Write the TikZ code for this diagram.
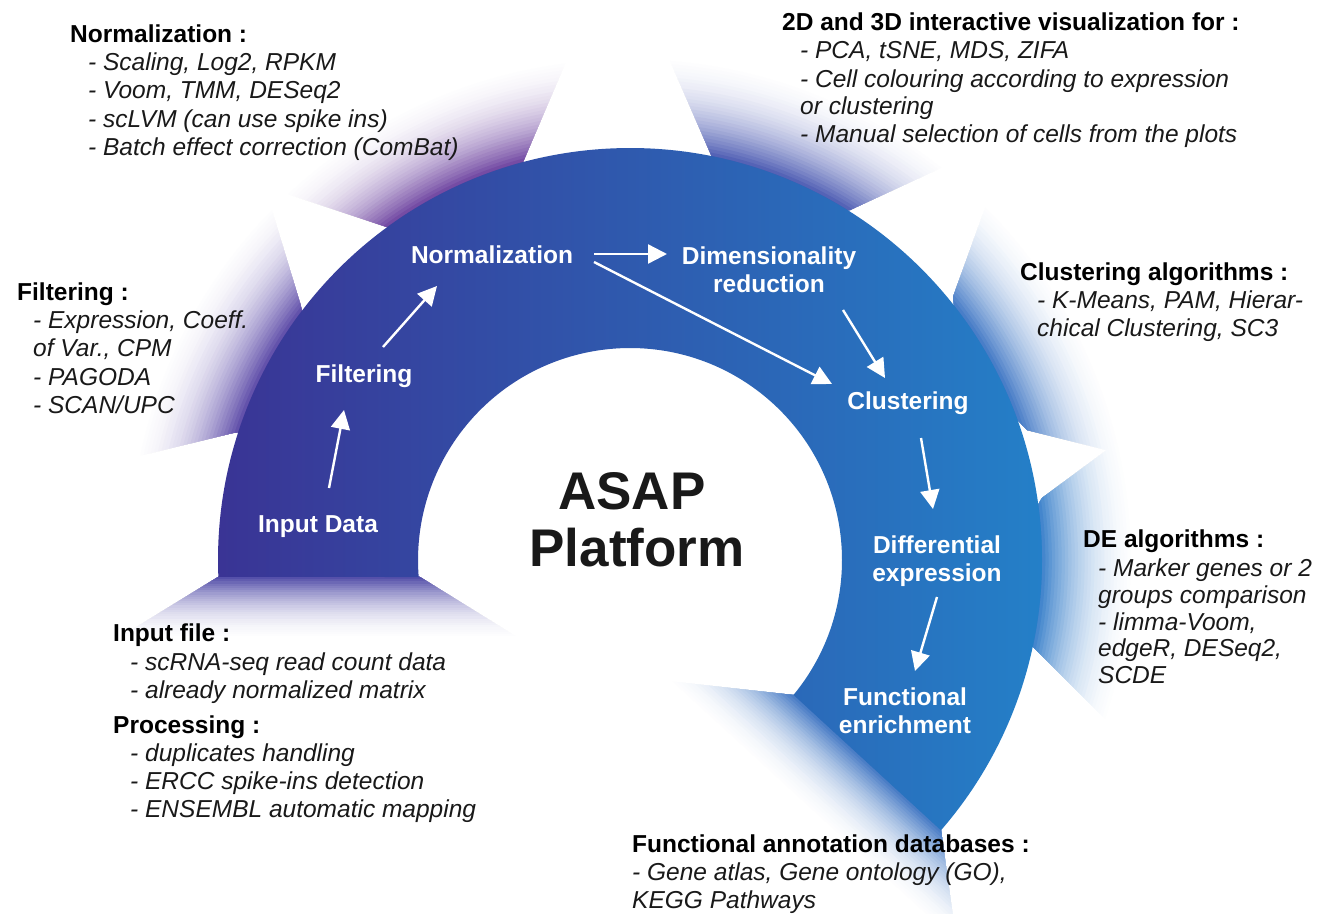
\documentclass[tikz,border=0pt]{standalone}
\usepackage{fontspec}
\setmainfont{Liberation Sans}
\usetikzlibrary{arrows.meta,calc}
\definecolor{ringL}{RGB}{58,51,148}
\definecolor{ringR}{RGB}{36,128,200}
\definecolor{rayA}{RGB}{62,56,158}
\definecolor{rayB}{RGB}{78,58,160}
\definecolor{rayC}{RGB}{98,52,152}
\definecolor{rayD}{RGB}{62,78,172}
\definecolor{rayE}{RGB}{48,108,192}
\definecolor{rayF}{RGB}{42,118,198}
\definecolor{rayG}{RGB}{50,108,190}
\definecolor{txt}{RGB}{25,25,25}

% radial fading ray: #1 clip polygon, #2 colour
\newcommand{\radray}[2]{%
  \begin{scope}
    \clip #1;
    \foreach \k in {1,...,32}{%
      \pgfmathsetmacro{\rr}{412+105*(1-\k/32)}%
      \pgfmathtruncatemacro{\pp}{95*(\k/32)^2.2}%
      \fill[#2!\pp!white] (630,-560) circle[radius=\rr];
    }
  \end{scope}}
% linear fading ray: #1 clip polygon, #2 colour, #3 origin, #4 rotation, #5 fade length
\newcommand{\linray}[5]{%
  \begin{scope}
    \clip #1;
    \begin{scope}[shift={#3},rotate=#4]
      \foreach \k in {1,...,32}{%
        \pgfmathsetmacro{\yy}{#5*(1-\k/32)}%
        \pgfmathtruncatemacro{\pp}{95*(\k/32)^2.2}%
        \fill[#2!\pp!white] (-700,-300) rectangle (700,\yy);
      }
    \end{scope}
  \end{scope}}

\tikzset{
  lab/.style={text=white, font=\bfseries\fontsize{24.5}{27.5}\selectfont, align=center, inner sep=0pt},
  arr/.style={white, line width=2.4pt, -{Triangle[length=19pt,width=19pt]}},
  hd/.style={anchor=base west, inner sep=0pt, text=black, font=\bfseries\fontsize{24.5}{28}\selectfont},
  bd/.style={anchor=base west, inner sep=0pt, text=txt, font=\itshape\fontsize{24.5}{28}\selectfont},
  big/.style={anchor=base, inner sep=0pt, text=black!90, font=\bfseries\fontsize{53}{58}\selectfont}
}

\begin{document}
\begin{tikzpicture}[x=1pt,y=1pt]
\fill[white] (0,0) rectangle (1317,-913);
\useasboundingbox (0,0) rectangle (1317,-913);
\clip (0,0) rectangle (1317,-913);

% ---- fading rays ----
\linray{(218,-577) -- (-38,-734) -- (675,-735) -- (420,-577) -- (319,-560) -- cycle}{rayA}{(319,-577)}{180}{70}
\radray{(233,-433) -- (-58,-504) -- (213,-16) -- (300,-303) -- (330,-420) -- cycle}{rayB}
\radray{(387,-227) -- (102,-132) -- (641,114) -- (523,-162) -- (460,-230) -- cycle}{rayC}
\radray{(712,-157) -- (592,118) -- (1122,-84) -- (850,-210) -- (780,-220) -- cycle}{rayD}
\radray{(953,-297) -- (1055,-15) -- (1318,-503) -- (1027,-430) -- (960,-360) -- cycle}{rayE}
\radray{(1042,-498) -- (1283,-320) -- (1245,-859) -- (1033,-647) -- (1000,-570) -- cycle}{rayF}
\linray{(793.6,-695) -- (495.6,-662) -- (982,-1127) -- (941,-830) -- (880,-720) -- cycle}{rayG}{(793.6,-695)}{137.5}{85}

% ---- ring ----
\shade[left color=ringL, right color=ringR]
  (630,-560) ++(182.36:412) arc[start angle=182.36, end angle=-41, radius=412]
  -- ($(630,-560)+(-39.5:212)$) arc[start angle=-39.5, end angle=184.6, radius=212] -- cycle;

% ---- ring labels ----
\node[lab] (indata) at (318,-527) {Input Data};
\node[lab] (filt) at (364,-376) {Filtering};
\node[lab] (norm) at (492,-255) {Normalization};
\node[lab] (dimred) at (769,-269.5) {Dimensionality\\reduction};
\node[lab] (clust) at (908,-403) {Clustering};
\node[lab] (diffex) at (937,-561) {Differential\\expression};
\node[lab] (funcen) at (905,-710.5) {Functional\\enrichment};

% ---- arrows ----
\draw[arr] ($(indata)+(11,39)$) -- ($(filt)+(-20,-34)$);
\draw[arr] ($(filt)+(19,29)$) -- ($(norm)+(-55,-31)$);
\draw[arr] ($(norm)+(102,1)$) -- ($(dimred)+(-102,15.5)$);
\draw[arr] ($(norm)+(102,-7)$) -- ($(clust)+(-76,19)$);
\draw[arr] ($(dimred)+(74,-40.5)$) -- ($(clust)+(-23,25)$);
\draw[arr] ($(clust)+(13,-35)$) -- ($(diffex)+(-4,52)$);
\draw[arr] ($(diffex)+(0,-36)$) -- ($(funcen)+(10,39.5)$);

% ---- centre title ----
\node[big] (asap) at (632,-509) {ASAP};
\node[big] (plat) at (637,-566) {Platform};

% ---- text blocks ----
\node[hd] (nh) at (70,-42) {Normalization :};
\node[bd] (n1) at (88,-70) {- Scaling, Log2, RPKM};
\node[bd] (n2) at (88,-98) {- Voom, TMM, DESeq2};
\node[bd] (n3) at (88,-127) {- scLVM (can use spike ins)};
\node[bd] (n4) at (88,-155) {- Batch effect correction (ComBat)};

\node[hd] (vh) at (782,-30) {2D and 3D interactive visualization for :};
\node[bd] (v1) at (800,-58) {- PCA, tSNE, MDS, ZIFA};
\node[bd] (v2) at (800,-87) {- Cell colouring according to expression};
\node[bd] (v3) at (800,-114) {or clustering};
\node[bd] (v4) at (800,-142) {- Manual selection of cells from the plots};

\node[hd] (fh) at (17,-300) {Filtering :};
\node[bd] (f1) at (33,-328) {- Expression, Coeff.};
\node[bd] (f2) at (33,-356) {of Var., CPM};
\node[bd] (f3) at (33,-385) {- PAGODA};
\node[bd] (f4) at (33,-413) {- SCAN/UPC};

\node[hd] (ch) at (1020,-280) {Clustering algorithms :};
\node[bd] (c1) at (1037,-308) {- K-Means, PAM, Hierar-};
\node[bd] (c2) at (1037,-336) {chical Clustering, SC3};

\node[hd] (dh) at (1083,-547) {DE algorithms :};
\node[bd] (d1) at (1098,-576) {- Marker genes or 2};
\node[bd] (d2) at (1098,-603) {groups comparison};
\node[bd] (d3) at (1098,-630) {- limma-Voom,};
\node[bd] (d4) at (1098,-656) {edgeR, DESeq2,};
\node[bd] (d5) at (1098,-683) {SCDE};

\node[hd] (ih) at (113,-641) {Input file :};
\node[bd] (i1) at (130,-670) {- scRNA-seq read count data};
\node[bd] (i2) at (130,-698) {- already normalized matrix};
\node[hd] (ph) at (113,-733) {Processing :};
\node[bd] (p1) at (130,-761) {- duplicates handling};
\node[bd] (p2) at (130,-789) {- ERCC spike-ins detection};
\node[bd] (p3) at (130,-817) {- ENSEMBL automatic mapping};

\node[hd] (ah) at (632,-852) {Functional annotation databases :};
\node[bd] (a1) at (632,-880) {- Gene atlas, Gene ontology (GO),};
\node[bd] (a2) at (632,-908) {KEGG Pathways};
\end{tikzpicture}
\end{document}
